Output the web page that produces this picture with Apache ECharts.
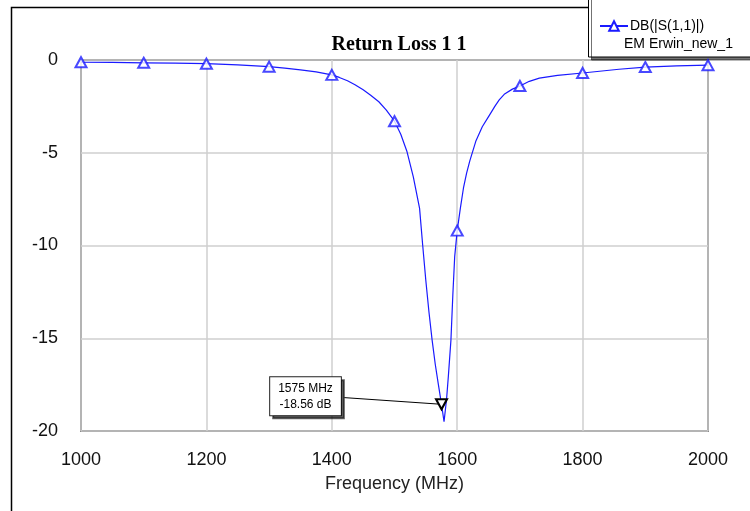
<!DOCTYPE html>
<html>
<head>
<meta charset="utf-8">
<script src="https://cdn.jsdelivr.net/npm/echarts@6/dist/echarts.min.js"></script>
<style>html,body{margin:0;padding:0;background:#fff;}#c{width:750px;height:511px;}</style>
</head>
<body>
<div id="c"></div>
<script>
// Curve samples (MHz, dB)
const freq = [1000,1050,1100,1150,1200,1250,1300,1325,1350,1375,1400,1412,1425,1437,1450,1462,1475,1487,1500,1510,1520,1530,1540,1545,1550,1555,1560,1565,1570,1575,1579,1583,1586,1590,1593,1596,1600,1605,1610,1615,1620,1630,1640,1651,1660,1667,1675,1688,1700,1715,1731,1760,1800,1858,1900,1950,2000];
const s11  = [-0.12,-0.13,-0.15,-0.17,-0.2,-0.26,-0.36,-0.44,-0.53,-0.64,-0.8,-0.94,-1.12,-1.33,-1.6,-1.9,-2.25,-2.7,-3.3,-4.0,-4.95,-6.3,-8.0,-10.0,-11.9,-13.6,-15.1,-16.4,-17.5,-18.56,-19.5,-18.3,-17.0,-15.1,-12.7,-10.6,-9.2,-8.0,-6.9,-6.1,-5.45,-4.35,-3.6,-3.0,-2.5,-2.15,-1.85,-1.57,-1.4,-1.15,-0.98,-0.83,-0.7,-0.5,-0.38,-0.32,-0.28];
// Marker triangles every 100 MHz
const markerFreq = [1000,1100,1200,1300,1400,1500,1600,1700,1800,1900,2000];
const markerVal  = [-0.12,-0.15,-0.2,-0.36,-0.8,-3.3,-9.2,-1.4,-0.7,-0.38,-0.28];
// Annotation marker
const annFreq = 1575, annVal = -18.56;
const annText = '1575 MHz\n-18.56 dB';
const annLineStart = [1420, -18.2];
const xTicks = {min:1000, max:2000, step:200};
const yTicks = {min:-20, max:0, step:5};
const seriesName = 'DB(|S(1,1)|)';
const seriesSub = 'EM Erwin_new_1';

const blue = '#1a1aff';
const chart = echarts.init(document.getElementById('c'), null, {renderer:'canvas'});
chart.setOption({
  animation:false,
  backgroundColor:'#fff',
  title:{text:'Return Loss 1 1', left:394, top:30, textAlign:'center',
    textStyle:{fontFamily:'Liberation Serif', fontWeight:'bold', fontSize:20, color:'#000'}},
  graphic:[
    {type:'rect', z:-10, shape:{x:11.5, y:7.5, width:800, height:600}, style:{fill:'none', stroke:'#000', lineWidth:1.5}},
    {type:'rect', z:1, shape:{x:588.5, y:-5, width:200, height:62}, style:{fill:'#fff', stroke:'#000', lineWidth:1, shadowColor:'rgba(0,0,0,0.55)', shadowOffsetX:3, shadowOffsetY:3, shadowBlur:0}},
    {type:'text', z:5, left:624, top:37, style:{text:seriesSub, fontFamily:'Liberation Sans', fontSize:14, fill:'#000'}}
  ],
  legend:{left:594, top:14, z:10, itemWidth:28, itemHeight:12, itemGap:5,
    data:[{name:seriesName}],
    textStyle:{fontFamily:'Liberation Sans', fontSize:14, color:'#000', padding:[0,0,0,-3]}},
  grid:{left:81, right:42, top:60, bottom:80, show:true, borderColor:'#333', borderWidth:1.5},
  xAxis:{type:'value', min:xTicks.min, max:xTicks.max, interval:xTicks.step,
    name:'Frequency (MHz)', nameLocation:'middle', nameGap:44,
    nameTextStyle:{fontFamily:'Liberation Sans', fontSize:18, color:'#222'},
    axisLine:{show:false}, axisTick:{show:false},
    axisLabel:{margin:20, fontFamily:'Liberation Sans', fontSize:18, color:'#111', formatter:v=>String(v)},
    splitLine:{show:true, lineStyle:{color:'#cfcfcf', width:1.5}}},
  yAxis:{type:'value', min:yTicks.min, max:yTicks.max, interval:yTicks.step,
    axisLine:{show:false}, axisTick:{show:false},
    axisLabel:{margin:23, fontFamily:'Liberation Sans', fontSize:18, color:'#111'},
    splitLine:{show:true, lineStyle:{color:'#cfcfcf', width:1.5}}},
  series:[
    {name:seriesName, type:'line', data:freq.map((f,i)=>[f,s11[i]]),
     smooth:false, showSymbol:false, symbol:'emptyTriangle', symbolSize:[11,10],
     lineStyle:{color:blue, width:1.2}, itemStyle:{color:blue},
     markPoint:{symbol:'emptyTriangle', symbolRotate:180, symbolSize:[11,10],
       itemStyle:{color:'#000', borderColor:'#000', borderWidth:1},
       data:[{coord:[annFreq, annVal], value:annVal,
         label:{show:true, formatter:annText, position:'inside', offset:[-136,-8],
           fontFamily:'Liberation Sans', fontSize:12, lineHeight:16, color:'#000',
           backgroundColor:'#fff', borderColor:'#222', borderWidth:1, padding:[3,8],
           shadowColor:'rgba(0,0,0,0.6)', shadowOffsetX:3, shadowOffsetY:3, shadowBlur:0}}]},
     markLine:{silent:true, symbol:['none','none'], label:{show:false},
       lineStyle:{color:'#000', width:1, type:'solid'},
       data:[[{coord:annLineStart},{coord:[annFreq, annVal]}]]}},
    {name:'markers', type:'scatter', data:markerFreq.map((f,i)=>[f,markerVal[i]]),
     symbol:'emptyTriangle', symbolSize:[11,10], z:3,
     itemStyle:{color:blue, borderColor:blue, borderWidth:1.2}}
  ]
});
</script>
</body>
</html>
